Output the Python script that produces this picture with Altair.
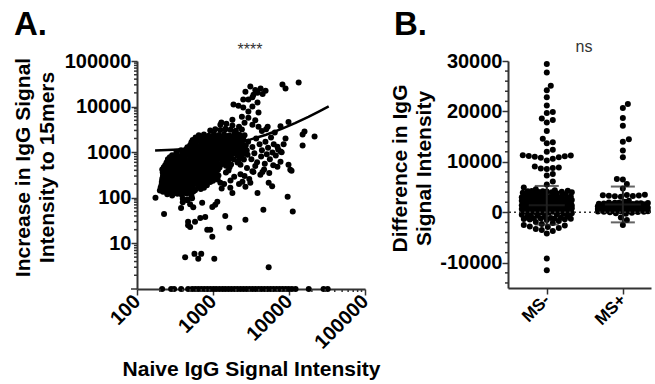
import altair as alt
import numpy as np
import pandas as pd

FONT = "Liberation Sans"

# ---------------- Panel A data (naive signal, increase to 15mers) ----------------
core_pts = [
    (175, 100), (400, 95), (460, 92), (530, 98),
    (250, 120), (290, 112), (340, 122), (390, 115), (450, 124), (520, 113),
    (200, 145), (235, 155), (275, 148), (320, 158), (370, 144), (430, 152), (500, 160), (580, 147), (690, 155),
    (210, 190), (245, 200), (285, 188), (330, 205), (385, 192), (450, 198), (520, 186), (600, 203), (700, 194), (830, 188),
    (215, 255), (250, 243), (290, 260), (340, 248), (395, 238), (460, 262), (540, 250), (630, 241), (730, 258), (850, 246), (1000, 236), (1150, 252),
    (220, 310), (255, 330), (300, 318), (350, 305), (405, 335), (470, 322), (550, 312), (640, 328), (750, 300), (870, 318), (1010, 333), (1180, 310),
    (215, 420), (250, 400), (290, 415), (340, 430), (395, 395), (460, 410), (540, 425), (630, 402), (730, 418), (850, 392), (990, 428), (1160, 405), (1600, 398),
    (235, 520), (275, 545), (320, 515), (375, 535), (435, 550), (510, 525), (590, 510), (690, 540), (800, 520), (940, 548), (1090, 515), (1270, 535), (1480, 505), (1730, 540), (2300, 530),
    (255, 700), (300, 665), (345, 690), (400, 710), (470, 670), (550, 695), (640, 660), (740, 700), (870, 685), (1010, 655), (1180, 705), (1370, 680), (1600, 660), (1870, 700), (2180, 670), (2550, 690),
    (290, 860), (335, 900), (390, 870), (455, 915), (530, 850), (620, 890), (720, 930), (840, 865), (980, 905), (1140, 855), (1330, 895), (1550, 870), (1810, 910), (2100, 860), (2450, 890), (2850, 875),
    (380, 1100), (440, 1150), (510, 1090), (600, 1160), (700, 1120), (810, 1080), (950, 1170), (1100, 1110), (1290, 1140), (1500, 1070), (1750, 1130), (2040, 1100), (2380, 1160), (2780, 1090),
    (500, 1420), (580, 1480), (680, 1400), (790, 1500), (920, 1440), (1070, 1380), (1250, 1470), (1460, 1420), (1700, 1510), (1980, 1430), (2310, 1470), (2700, 1400),
    (540, 1850), (630, 1920), (730, 1800), (850, 1950), (990, 1870), (1160, 1820), (1350, 1940), (1580, 1860), (1840, 1900), (2150, 1830), (2500, 1960),
    (650, 2350), (760, 2450), (880, 2300), (1030, 2500), (1200, 2380), (1400, 2430), (1630, 2320), (1900, 2480), (2220, 2400), (2600, 2350),
    (920, 3000), (1070, 3200), (1250, 3050), (1460, 3250), (1700, 3100), (2000, 2950), (2400, 3150),
    (1250, 4000), (1500, 4200), (1800, 3850),
]
core_fill_pts = [
    (220, 135), (260, 132), (305, 138), (355, 130), (410, 136), (480, 133), (550, 138),
    (205, 168), (230, 172), (265, 165), (305, 175), (355, 170), (410, 166), (475, 174), (545, 168), (640, 172), (760, 166),
    (212, 222), (232, 215), (268, 225), (310, 218), (362, 228), (420, 212), (495, 224), (570, 216), (660, 226), (780, 214), (920, 222),
    (218, 280), (235, 290), (270, 283), (318, 292), (370, 278), (435, 288), (505, 282), (585, 295), (680, 278), (790, 290), (930, 284), (1080, 292),
    (218, 360), (236, 370), (272, 358), (318, 372), (372, 362), (432, 368), (505, 356), (585, 374), (685, 362), (800, 370), (930, 358), (1090, 366), (1480, 360),
    (225, 465), (262, 478), (305, 462), (360, 475), (420, 468), (490, 480), (565, 460), (660, 472), (770, 478), (900, 465), (1040, 474), (1220, 462), (1650, 466),
    (245, 595), (285, 610), (332, 590), (388, 605), (450, 598), (528, 612), (612, 592), (712, 606), (830, 596), (970, 610), (1130, 590), (1320, 604), (1540, 598), (2100, 594),
    (270, 775), (318, 790), (368, 770), (428, 786), (500, 780), (585, 792), (680, 772), (790, 788), (920, 776), (1080, 790), (1260, 772), (1460, 785), (1700, 778), (2320, 774),
    (330, 995), (410, 1010), (475, 985), (555, 1015), (650, 990), (760, 1008), (880, 988), (1030, 1012), (1200, 995), (1400, 1005), (1630, 990), (1900, 1010), (2220, 995), (2600, 1005),
    (460, 1280), (540, 1300), (630, 1275), (740, 1310), (860, 1285), (1000, 1295), (1170, 1280), (1370, 1305), (1600, 1290), (1860, 1300), (2180, 1285), (2520, 1295),
    (520, 1650), (600, 1680), (700, 1640), (820, 1670), (950, 1655), (1110, 1685), (1300, 1645), (1520, 1675), (1770, 1660), (2060, 1670), (2400, 1650),
    (590, 2100), (690, 2150), (800, 2120), (940, 2160), (1090, 2110), (1280, 2140), (1490, 2120), (1740, 2150), (2040, 2110), (2370, 2140),
]
spread_pts = [
    (2900, 1700), (3300, 1300), (3700, 2000), (4100, 1500), (3500, 950), (4400, 1100), (4900, 1700), (5300, 1250), (5800, 2100), (6300, 1500),
    (3200, 700), (3800, 600), (4300, 800), (4800, 560), (5100, 900), (5600, 700), (6200, 520), (6700, 850), (7200, 1150), (8000, 1000),
    (2800, 450), (3300, 380), (3600, 500), (4200, 320), (4700, 420), (5500, 350), (2600, 300), (3000, 260), (2300, 330), (1900, 290),
    (1700, 240), (1400, 200), (1300, 160), (2200, 200), (3100, 213), (2440, 225), (2670, 175), (1690, 166), (1250, 213), (3410, 370),
    (4470, 370), (5400, 213), (6050, 980), (7040, 480), (7730, 620), (9850, 530), (10400, 410), (10800, 390), (6000, 180), (3850, 128),
    (1800, 128), (7040, 1320), (7730, 1030), (9000, 2000), (8500, 1500),
]
upper_pts = [
    (3100, 27500), (2670, 21300), (4230, 24900), (4920, 22400), (3410, 18200), (3850, 20200), (2920, 14300), (2500, 14300),
    (1860, 11100), (2160, 10500), (2500, 9500), (3300, 10000), (2920, 7800), (3970, 7400), (3850, 12300), (3300, 16000), (4500, 19000), (3600, 23000),
    (1290, 4500), (1800, 5150), (2920, 5700), (3300, 4000), (3970, 3600), (5240, 3600), (7730, 3700), (9850, 4600),
    (15100, 2450), (16000, 2850), (21700, 2200), (15100, 1400), (13400, 33900), (8200, 30600), (9000, 24900),
    (1010, 2200), (1450, 3150), (1970, 2850), (2200, 3600), (2600, 4400), (2400, 6000), (3600, 5000), (4400, 2900), (5000, 3200), (6500, 2700),
]
low_pts = [
    (227, 44), (470, 30), (500, 23), (680, 36), (790, 38), (840, 20), (920, 20), (980, 14), (1450, 40), (1640, 22), (2670, 33), (4600, 55),
    (430, 5), (570, 5.9), (700, 5.9), (640, 4.6), (1040, 4.6), (5400, 3), (470, 25), (580, 30), (1070, 70),
    (460, 88), (500, 72), (550, 62), (720, 78), (980, 63), (1140, 82), (400, 80), (380, 60), (9600, 105), (11200, 50),
]
# peptides with no increase (drawn on the axis, at 1)
zero_naive = [214, 281, 308, 381, 471, 532, 584, 640, 700, 767, 840, 920, 1010, 1100, 1210, 1330, 1450, 1590,
              1740, 1910, 2090, 2290, 2510, 2750, 3010, 3300, 3620, 3970, 4340, 4760, 5220, 5720, 6270, 6870,
              7530, 8250, 9040, 9910, 10900, 12200, 18200, 28500, 32300]
# fitted line
fit_naive = [173, 300, 500, 800, 1200, 2000, 3000, 5000, 8000, 12000, 18000, 25000, 33300]
fit_increase = [1096, 1131, 1186, 1267, 1377, 1595, 1868, 2414, 3233, 4325, 5963, 7874, 10140]

# ---------------- Panel B data (difference in IgG signal) ----------------
group_names = ["MS-", "MS+"]
ms_minus = [
    29400, 27700, 25100, 24200, 22800, 21200, 19900, 19700, 18600, 18300, 17800, 16100, 14600, 13900, 13700, 12400, 12000,
    11300, 11250, 11150, 11100, 11000, 10900, 10800, 10600, 10300,
    9100, 8900, 8800, 8700, 8600, 7600, 7300, 6100, 5500,
    4900, 4600, 4400, 4300, 4250, 4200, 4200, 4150, 4100, 4050, 4000, 4000, 3900, 3800, 3700, 3650, 3500, 3450, 3400,
    3300, 3250, 3200, 3150, 3100, 3050, 3000, 2950, 2900, 2850, 2800, 2750, 2700, 2650, 2600, 2550, 2500, 2450, 2400,
    2350, 2300, 2250, 2200, 2150, 2100, 2050, 2000, 1950, 1900, 1850, 1800, 1750, 1700, 1650, 1600, 1550, 1500, 1450,
    1400, 1350, 1300, 1250, 1200, 1150, 1100, 1050, 1000, 950, 900, 850, 800, 750, 700, 650, 600, 550, 500, 450, 400,
    350, 300, 250, 200, 150, 100, 50, 0, -50, -100, -200, -300, -400, -500, -600, -700, -800, -900, -1000, -1050,
    -1100, -1150, -1200, -1200, -1250, -1300, -1350, -1400, -1500,
    2480, 2320, 2180, 2020, 1880, 1720, 1580, 1420, 1280, 1120, 980, 820, 680, 520, 380, 220, 80, 1960, 1640, 1360,
    1040, 760, 440, 2260, 1820, 1180, 860, 560, 240, 120,
    -1700, -1900, -2100, -2300, -2500, -2600, -2800, -2900, -3100, -3300, -3500, -3700, -4200, -9150, -11470,
]
ms_plus = [
    21500, 20700, 18700, 17150, 14500, 14000, 12250, 10900, 6600, 6500, 5600, 4700,
    3500, 3450, 3400, 3350, 3300, 3250, 3200, 3100, 2300, 2100,
    1950, 1900, 1900, 1850, 1800, 1800, 1750, 1700, 1650, 1600, 1600, 1550, 1500, 1450, 1400, 1400, 1350, 1300,
    1250, 1200, 1200, 1150, 1100, 1050, 1000, 1000, 950, 900, 850, 800, 800, 750, 700, 650, 600, 600, 550, 500,
    450, 400, 400, 350, 300, 250, 200, 200, 150, 100, 50, 0, -100, -200, -300,
    1780, 1620, 1480, 1320, 1180, 1020, 880, 720, 580, 420, 280, 120, 1540, 1260, 960, 660, 340,
    -1000, -1530, -2530,
]
group_mean = [1400, 1560]
group_sd = [3830, 3550]

sig_labels = ["****", "ns"]
panel_labels = ["A.", "B."]

# axis tick values
a_x_major = [100, 1000, 10000, 100000]
a_y_major = [10, 100, 1000, 10000, 100000]
a_x_minor = [m * 10 ** e for e in range(2, 5) for m in range(2, 10)]
a_y_minor = [m * 10 ** e for e in range(0, 5) for m in range(2, 10)]
b_y_major = [-10000, 0, 10000, 20000, 30000]
b_y_minor = [v for v in range(-14000, 30001, 2000) if v % 10000 != 0]

# ---------------- layout constants ----------------
WA, HA = 228, 228
WB, HB = 143, 227
B_X_DOMAIN = [-0.51, 1.37]
B_Y_DOMAIN = [-15000, 30000]
DOT = 36
AX = "#333333"


def swarm(values, ppu_y, diam=6.0, max_half=25.0, step=1.0):
    """Beeswarm layout: pixel offsets so that dots do not overlap (until max width)."""
    vals = np.asarray(values, dtype=float)
    order = np.argsort(vals, kind="stable")
    cands = [0.0]
    k = 1
    while k * step <= max_half:
        cands += [k * step, -k * step]
        k += 1
    cands = np.array(cands)
    px_list, py_list = [], []
    offs = np.zeros(len(vals))
    for i in order:
        y = vals[i] * ppu_y
        c = 0.0
        if py_list:
            py = np.array(py_list)
            px = np.array(px_list)
            near = np.abs(py - y) < diam
            if near.any():
                dy2 = (py[near] - y) ** 2
                d = np.sqrt((cands[:, None] - px[near][None, :]) ** 2 + dy2[None, :])
                mind = d.min(axis=1)
                ok = np.where(mind >= diam)[0]
                c = cands[ok[0]] if len(ok) else cands[np.argmax(mind)]
        offs[i] = c
        px_list.append(c)
        py_list.append(y)
    return offs


axis_common = dict(
    domainColor=AX, domainWidth=2, tickColor=AX, tickWidth=1.5, tickSize=6,
    labelFont=FONT, labelFontWeight="bold", labelColor="black", labelFontSize=20,
    titleFont=FONT, titleFontWeight="bold", titleColor="black", titleFontSize=21,
    grid=False, labelOverlap=False, labelFlush=False,
)


def y_minor_ticks(field, values, length=3):
    # extra (unlabelled) axis ticks, positioned through the shared y scale
    return alt.Chart(pd.DataFrame({field: values})).mark_rule(color=AX, strokeWidth=1.5).encode(
        y=f"{field}:Q", x=alt.value(-length), x2=alt.value(0)
    )


def x_minor_ticks(field, values, height, length=3):
    return alt.Chart(pd.DataFrame({field: values})).mark_rule(color=AX, strokeWidth=1.5).encode(
        x=f"{field}:Q", y=alt.value(height), y2=alt.value(height + length)
    )


# ---------------- Panel A ----------------
pts = core_pts + core_fill_pts + spread_pts + upper_pts + low_pts + [(x, 1) for x in zero_naive]
dfA = pd.DataFrame(pts, columns=["naive", "increase"])
dfFit = pd.DataFrame({"naive": fit_naive, "increase": fit_increase})

xA = alt.X(
    "naive:Q",
    scale=alt.Scale(type="log", domain=[100, 100000], nice=False),
    axis=alt.Axis(
        values=a_x_major, format="d",
        labelAngle=-45, labelAlign="right", labelBaseline="middle", labelPadding=3,
        title="Naive IgG Signal Intensity", titlePadding=6,
        **axis_common,
    ),
)
yA = alt.Y(
    "increase:Q",
    scale=alt.Scale(type="log", domain=[1, 100000], nice=False),
    axis=alt.Axis(
        values=a_y_major, format="d",
        labelPadding=0,
        title=["Increase in IgG Signal", "Intensity to 15mers"], titlePadding=7,
        titleLineHeight=24, titleY=106,
        **axis_common,
    ),
)

ptsA = alt.Chart(dfA).mark_circle(size=DOT, color="black", opacity=1).encode(x=xA, y=yA)
lineA = alt.Chart(dfFit).mark_line(color="black", strokeWidth=2.5).encode(x="naive:Q", y="increase:Q")
minorAy = y_minor_ticks("increase", a_y_minor)
originAy = y_minor_ticks("increase", [1], length=6)
minorAx = x_minor_ticks("naive", a_x_minor, HA)
sigA = alt.Chart(pd.DataFrame({"t": [sig_labels[0]]})).mark_text(
    font=FONT, fontSize=16, color=AX, align="center", baseline="alphabetic"
).encode(x=alt.value(WA / 2 - 1), y=alt.value(-6), text="t:N")
labA = alt.Chart(pd.DataFrame({"t": [panel_labels[0]]})).mark_text(
    font=FONT, fontSize=33, fontWeight="bold", color="black", align="left", baseline="alphabetic"
).encode(x=alt.value(-123), y=alt.value(-26), text="t:N")

chartA = alt.layer(ptsA, lineA, minorAy, originAy, minorAx, sigA, labA).properties(width=WA, height=HA)

# ---------------- Panel B ----------------
ppu_y = HB / (B_Y_DOMAIN[1] - B_Y_DOMAIN[0])
ppu_x = WB / (B_X_DOMAIN[1] - B_X_DOMAIN[0])
rows = []
for gi, vals in enumerate([ms_minus, ms_plus]):
    offs = swarm(vals, ppu_y)
    for v, o in zip(vals, offs):
        rows.append({"g": gi + o / ppu_x, "v": v})
dfB = pd.DataFrame(rows)
dfStats = pd.DataFrame({"g": [0, 1], "mean": group_mean, "sd": group_sd})

name_expr = "[" + ",".join(f"'{n}'" for n in group_names) + "][datum.value]"
xB = alt.X(
    "g:Q",
    scale=alt.Scale(domain=B_X_DOMAIN, nice=False, zero=False),
    axis=alt.Axis(
        values=[0, 1], labelExpr=name_expr,
        labelAngle=-45, labelAlign="right", labelBaseline="middle", labelPadding=3,
        title=None, **{**axis_common, "labelFontSize": 17},
    ),
)
yB = alt.Y(
    "v:Q",
    scale=alt.Scale(domain=B_Y_DOMAIN, nice=False, zero=False),
    axis=alt.Axis(
        values=b_y_major, format="d",
        labelExpr="replace(datum.label, '\u2212', '-')",
        labelPadding=0,
        title=["Difference in IgG", "Signal Intensity"], titlePadding=5,
        titleLineHeight=24, titleY=107,
        **axis_common,
    ),
)

zeroB = alt.Chart(pd.DataFrame({"v": [0]})).mark_rule(
    color=AX, strokeWidth=1.5, strokeDash=[2, 3]
).encode(y="v:Q")
ptsB = alt.Chart(dfB).mark_circle(size=DOT, color="black", opacity=1, clip=True).encode(x=xB, y=yB)
bar_range = alt.Chart(dfStats).transform_calculate(
    v="datum.mean - datum.sd", v2="datum.mean + datum.sd"
).mark_rule(color="#222222", strokeWidth=2).encode(x="g:Q", y="v:Q", y2="v2:Q")
cap_hi = alt.Chart(dfStats).transform_calculate(v="datum.mean + datum.sd").mark_tick(
    color="#222222", orient="horizontal", size=24, thickness=2).encode(x="g:Q", y="v:Q")
cap_lo = alt.Chart(dfStats).transform_calculate(v="datum.mean - datum.sd").mark_tick(
    color="#222222", orient="horizontal", size=24, thickness=2).encode(x="g:Q", y="v:Q")
mean_line = alt.Chart(dfStats).transform_calculate(v="datum.mean").mark_tick(
    color="#222222", orient="horizontal", size=36, thickness=2).encode(x="g:Q", y="v:Q")
minorBy = y_minor_ticks("v", b_y_minor)
sigB = alt.Chart(pd.DataFrame({"t": [sig_labels[1]]})).mark_text(
    font=FONT, fontSize=16, color=AX, align="center", baseline="alphabetic"
).encode(x=alt.value(76), y=alt.value(-9), text="t:N")
labB = alt.Chart(pd.DataFrame({"t": [panel_labels[1]]})).mark_text(
    font=FONT, fontSize=33, fontWeight="bold", color="black", align="left", baseline="alphabetic"
).encode(x=alt.value(-114), y=alt.value(-26), text="t:N")

chartB = alt.layer(ptsB, zeroB, bar_range, cap_hi, cap_lo, mean_line, minorBy, sigB, labB).properties(
    width=WB, height=HB)

chart = alt.hconcat(chartA, chartB, spacing=143, bounds="flush").properties(
    padding={"left": 12, "top": 9, "right": 0, "bottom": 0}
).configure(background="white").configure_view(stroke=None).configure_axis(labelOverlap=False)

chart.save("out.html", embed_options={"renderer": "svg", "actions": False})
